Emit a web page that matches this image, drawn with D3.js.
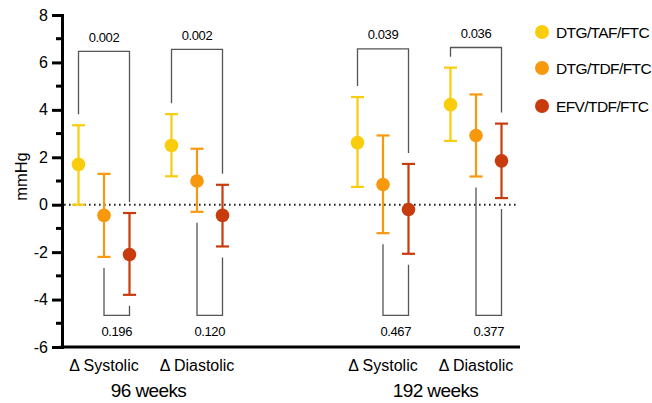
<!DOCTYPE html>
<html>
<head>
<meta charset="utf-8">
<script src="https://cdn.jsdelivr.net/npm/d3@7"></script>
<style>
  body { margin: 0; background: #fff; }
  text { font-family: "Liberation Sans", Arial, sans-serif; fill: #000; }
</style>
</head>
<body>
<svg id="chart" width="652" height="403"></svg>
<script>
// Data
var timepoints = ["96 weeks", "192 weeks"];
var measures = ["\u0394 Systolic", "\u0394 Diastolic"];
var regimens = ["DTG/TAF/FTC", "DTG/TDF/FTC", "EFV/TDF/FTC"];
var colors = ["#F9CC0C", "#F7980D", "#C83B0C"];

// one row per cluster: 96w sys, 96w dia, 192w sys, 192w dia
var means = [[1.7, -0.45, -2.1], [2.5, 1.0, -0.45], [2.62, 0.85, -0.2], [4.22, 2.92, 1.85]];
var upper = [[3.35, 1.3, -0.35], [3.82, 2.36, 0.84], [4.54, 2.92, 1.72], [5.78, 4.65, 3.42]];
var lower = [[0.0, -2.2, -3.8], [1.2, -0.3, -1.76], [0.75, -1.2, -2.07], [2.69, 1.19, 0.28]];

var pTop = ["0.002", "0.002", "0.039", "0.036"];     // DTG/TAF/FTC vs EFV/TDF/FTC
var pBottom = ["0.196", "0.120", "0.467", "0.377"];  // DTG/TDF/FTC vs EFV/TDF/FTC
var topLevel = [6.47, 6.55, 6.57, 6.63];
var bottomLevel = -4.67;

var yTicks = [-6, -4, -2, 0, 2, 4, 6, 8];

// Layout
var svg = d3.select("#chart");
var y = d3.scaleLinear().domain([-6, 8]).range([347, 15]);
var xCluster = d3.scaleLinear().domain([0, 4]).range([104, 476]);
var xOff = d3.scalePoint().domain(d3.range(regimens.length)).range([-25.5, 25.5]);
var legGap = 11;

function clusterSlot(c){
    // timepoint block * 3 + measure
    return Math.floor(c / 2) * 3 + (c % 2);
}
function xPos(c, r){
    return xCluster(clusterSlot(c)) + xOff(r);
}

// Y axis
var yAxis = d3.axisLeft(y).tickValues(yTicks).tickSize(10).tickPadding(4)
    .tickFormat(function(d){ return String(d); });
var gy = svg.append("g").attr("transform", "translate(62,0)").call(yAxis);
gy.select(".domain").attr("stroke", "#000").attr("stroke-width", 3);
gy.selectAll(".tick line").attr("stroke", "#000").attr("stroke-width", 3);
gy.selectAll(".tick text").attr("font-size", 16).attr("fill", "#000")
    .attr("font-family", "Liberation Sans, Arial, sans-serif");

// minor ticks
svg.append("g").selectAll("line")
    .data(d3.range(-5, 8, 2))
    .join("line")
    .attr("x1", 56).attr("x2", 62)
    .attr("y1", function(d){ return y(d); })
    .attr("y2", function(d){ return y(d); })
    .attr("stroke", "#000").attr("stroke-width", 3);

// X axis line
svg.append("line")
    .attr("x1", 60.5).attr("x2", 520)
    .attr("y1", y(-6)).attr("y2", y(-6))
    .attr("stroke", "#000").attr("stroke-width", 3);

// zero line
svg.append("line")
    .attr("x1", 64).attr("x2", 518)
    .attr("y1", y(0)).attr("y2", y(0))
    .attr("stroke", "#222").attr("stroke-width", 2)
    .attr("stroke-dasharray", "1.6,3.4");

// y label
svg.append("text")
    .attr("transform", "translate(26.5,176.5) rotate(-90)")
    .attr("text-anchor", "middle")
    .attr("font-size", 16.5)
    .text("mmHg");

// Brackets
var brackets = svg.append("g").attr("fill", "none").attr("stroke", "#555").attr("stroke-width", 1.3);
means.forEach(function(m, c){
    var x0 = xPos(c, 0), x2 = xPos(c, 2), x1 = xPos(c, 1);
    var yt = y(topLevel[c]);
    brackets.append("path")
        .attr("d", "M" + x0 + "," + (y(upper[c][0]) - legGap) + "V" + yt + "H" + x2 + "V" + (y(upper[c][2]) - legGap));
    svg.append("text")
        .attr("x", (x0 + x2) / 2).attr("y", yt - 9.5)
        .attr("text-anchor", "middle").attr("font-size", 13).attr("letter-spacing", -0.4)
        .text(pTop[c]);

    var yb = y(bottomLevel);
    brackets.append("path")
        .attr("d", "M" + x1 + "," + (y(lower[c][1]) + legGap) + "V" + yb + "H" + x2 + "V" + (y(lower[c][2]) + legGap));
    svg.append("text")
        .attr("x", (x1 + x2) / 2).attr("y", yb + 21)
        .attr("text-anchor", "middle").attr("font-size", 13).attr("letter-spacing", -0.4)
        .text(pBottom[c]);
});

// Error bars and points
means.forEach(function(m, c){
    var g = svg.append("g");
    regimens.forEach(function(name, r){
        var cx = xPos(c, r);
        var col = colors[r];
        g.append("line")
            .attr("x1", cx).attr("x2", cx)
            .attr("y1", y(upper[c][r])).attr("y2", y(lower[c][r]))
            .attr("stroke", col).attr("stroke-width", 2.2);
        [upper[c][r], lower[c][r]].forEach(function(v){
            g.append("line")
                .attr("x1", cx - 6.5).attr("x2", cx + 6.5)
                .attr("y1", y(v)).attr("y2", y(v))
                .attr("stroke", col).attr("stroke-width", 2.2);
        });
        g.append("circle")
            .attr("cx", cx).attr("cy", y(m[r])).attr("r", 6.8)
            .attr("fill", col);
    });
});

// X labels
means.forEach(function(m, c){
    svg.append("text")
        .attr("x", xPos(c, 1)).attr("y", 371)
        .attr("text-anchor", "middle").attr("font-size", 16)
        .text(measures[c % 2]);
});
timepoints.forEach(function(t, i){
    svg.append("text")
        .attr("x", (xPos(i * 2, 1) + xPos(i * 2 + 1, 1)) / 2 + (i ? 6 : -2)).attr("y", 397)
        .attr("text-anchor", "middle").attr("font-size", 19).attr("letter-spacing", -0.6)
        .text(t);
});

// Legend
var legend = svg.append("g").attr("transform", "translate(542,0)");
regimens.forEach(function(name, i){
    var ly = [32, 68, 106][i];
    legend.append("circle").attr("cx", 0).attr("cy", ly).attr("r", 7).attr("fill", colors[i]);
    legend.append("text").attr("x", 14).attr("y", ly + 5.5)
        .attr("font-size", 15.5).attr("letter-spacing", -0.6)
        .text(name);
});
</script>
</body>
</html>
